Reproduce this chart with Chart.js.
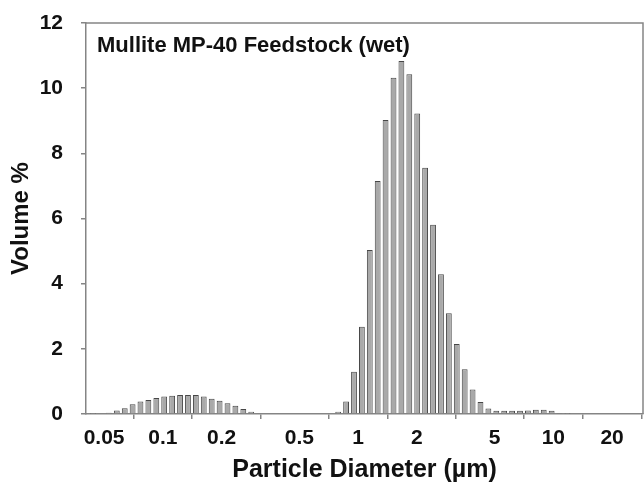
<!DOCTYPE html>
<html>
<head>
<meta charset="utf-8">
<title>Mullite MP-40 Feedstock (wet)</title>
<script src="https://cdn.jsdelivr.net/npm/chart.js@4/dist/chart.umd.min.js"></script>
<style>
    body { margin: 0; background: #fff; }
    #wrap { width: 644px; height: 485px; }
</style>
</head>
<body>
<div id="wrap"><canvas id="psd-chart" width="644" height="485"></canvas></div>
<script>
// channel diameters (um) and volume %
const diameters = [
    0.0439, 0.0482, 0.0529, 0.0581, 0.0638, 0.0700, 0.0768, 0.0843, 0.0926, 0.1016, 0.1116,
    0.1225, 0.1345, 0.1476, 0.1620, 0.1779, 0.1953, 0.2144, 0.2353, 0.2583, 0.2836, 0.3113,
    0.7910, 0.8682, 0.9531, 1.046, 1.148, 1.260, 1.383, 1.519, 1.667, 1.830, 2.009,
    2.205, 2.421, 2.658, 2.917, 3.202, 3.516, 3.859, 4.236, 4.650, 5.105, 5.603,
    6.151, 6.752, 7.412, 8.137, 8.932, 9.805, 10.76, 11.81
];
const volumes = [
    0.01, 0.02, 0.04, 0.11, 0.18, 0.30, 0.38, 0.43, 0.49, 0.54, 0.56,
    0.58, 0.58, 0.58, 0.54, 0.47, 0.41, 0.33, 0.25, 0.15, 0.07, 0.02,
    0.07, 0.38, 1.30, 2.68, 5.03, 7.15, 9.02, 10.32, 10.83, 10.43, 9.22,
    7.56, 5.81, 4.29, 3.09, 2.15, 1.37, 0.75, 0.37, 0.17, 0.10, 0.10,
    0.10, 0.10, 0.11, 0.13, 0.13, 0.10, 0.03, 0.01
];
const xTickValues = [0.05, 0.1, 0.2, 0.5, 1, 2, 5, 10, 20];
const xTickLabels = ["0.05", "0.1", "0.2", "0.5", "1", "2", "5", "10", "20"];
const yTickValues = [0, 2, 4, 6, 8, 10, 12];

const chartTitle = "Mullite MP-40 Feedstock (wet)";
const fontFamily = '"Liberation Sans", Arial, Helvetica, sans-serif';
const axisGray = "#858585";

// box round the plot area (left and bottom come from the scales)
const frame = {
    id: "frame",
    afterDraw(chart) {
        const { ctx, chartArea } = chart;
        ctx.save();
        ctx.strokeStyle = axisGray;
        ctx.lineWidth = 1.5;
        ctx.beginPath();
        ctx.moveTo(chartArea.left, chartArea.top);
        ctx.lineTo(chartArea.right, chartArea.top);
        ctx.lineTo(chartArea.right, chartArea.bottom);
        ctx.stroke();
        ctx.restore();
    }
};

const innerTitle = {
    id: "innerTitle",
    afterDraw(chart) {
        const { ctx, chartArea } = chart;
        ctx.save();
        ctx.font = "bold 22px " + fontFamily;
        ctx.fillStyle = "#111";
        ctx.textBaseline = "alphabetic";
        ctx.fillText(chartTitle, chartArea.left + 11, chartArea.top + 29);
        ctx.restore();
    }
};

document.addEventListener("DOMContentLoaded", () => {
    const canvas = document.getElementById("psd-chart");
    const points = diameters.map((d, i) => ({ x: d, y: volumes[i] }));

    new Chart(canvas, {
        type: "bar",
        data: {
            datasets: [{
                data: points,
                backgroundColor: "#a9a9a9",
                borderColor: "#474747",
                borderWidth: 1,
                borderSkipped: "start",
                categoryPercentage: 1,
                barPercentage: 0.74
            }]
        },
        options: {
            responsive: false,
            animation: false,
            layout: { padding: { top: 23, right: 1, left: 0, bottom: 0 } },
            plugins: {
                legend: { display: false },
                tooltip: { enabled: false }
            },
            scales: {
                x: {
                    type: "logarithmic",
                    min: 0.0404,
                    max: 28.8,
                    afterBuildTicks: (scale) => {
                        scale.ticks = xTickValues.map((v) => ({ value: v }));
                    },
                    afterFit: (scale) => { scale.height = 71; },
                    ticks: {
                        autoSkip: false,
                        maxRotation: 0,
                        padding: 7,
                        color: "#111",
                        font: { family: fontFamily, size: 21, weight: "bold" },
                        callback: (value) => {
                            const i = xTickValues.indexOf(value);
                            return i >= 0 ? xTickLabels[i] : "";
                        }
                    },
                    grid: {
                        drawOnChartArea: false,
                        drawTicks: true,
                        tickLength: 5,
                        color: axisGray,
                        lineWidth: 1.5
                    },
                    border: { display: true, color: axisGray, width: 1.5 },
                    title: {
                        display: true,
                        text: "Particle Diameter (µm)",
                        color: "#111",
                        padding: { top: 0, bottom: 0 },
                        font: { family: fontFamily, size: 25, weight: "bold" }
                    }
                },
                y: {
                    min: 0,
                    max: 12,
                    afterBuildTicks: (scale) => {
                        scale.ticks = yTickValues.map((v) => ({ value: v }));
                    },
                    afterFit: (scale) => {
                        scale.width = 86;
                        // the label gap should not push the plot area down
                        scale.paddingTop = 0;
                        scale.paddingBottom = 0;
                    },
                    ticks: {
                        padding: 18,
                        color: "#111",
                        font: { family: fontFamily, size: 21, weight: "bold" }
                    },
                    grid: {
                        drawOnChartArea: false,
                        drawTicks: true,
                        tickLength: 5,
                        color: axisGray,
                        lineWidth: 1.5
                    },
                    border: { display: true, color: axisGray, width: 1.5 },
                    title: {
                        display: true,
                        text: "Volume %",
                        color: "#111",
                        padding: { top: 7, bottom: 0 },
                        font: { family: fontFamily, size: 24, weight: "bold" }
                    }
                }
            }
        },
        plugins: [frame, innerTitle]
    });
});
</script>
</body>
</html>
